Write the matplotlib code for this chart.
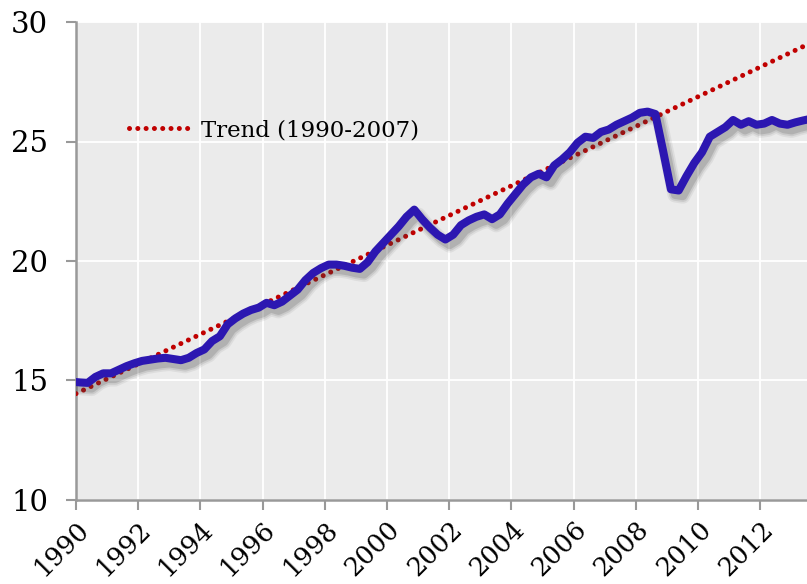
import numpy as np
import matplotlib
matplotlib.use('Agg')
import matplotlib.pyplot as plt
import matplotlib.patheffects as pe

# quarterly series, points at mid-quarter starting 1989Q4
first_quarter = 1989.875
values = [14.95, 14.92, 14.90, 15.15, 15.30, 15.30, 15.45, 15.60, 15.72,
          15.82, 15.87, 15.92, 15.95, 15.90, 15.85, 15.95, 16.15,
          16.30, 16.65, 16.85, 17.35, 17.60, 17.80, 17.95, 18.05,
          18.25, 18.15, 18.30, 18.55, 18.80, 19.20, 19.50, 19.70,
          19.85, 19.85, 19.80, 19.72, 19.67, 19.95, 20.40, 20.75,
          21.10, 21.45, 21.85, 22.15, 21.75, 21.40, 21.10, 20.90,
          21.10, 21.50, 21.70, 21.85, 21.95, 21.75, 21.95, 22.40,
          22.80, 23.20, 23.50, 23.65, 23.50, 24.00, 24.25, 24.55,
          24.95, 25.20, 25.15, 25.40, 25.50, 25.70, 25.85, 26.00,
          26.20, 26.25, 26.15, 24.60, 23.00, 22.95, 23.55, 24.10,
          24.55, 25.20, 25.40, 25.60, 25.90, 25.70, 25.85, 25.70,
          25.75, 25.90, 25.75, 25.70, 25.80, 25.88, 25.95]

# trend (1990-2007) end points
trend_years = [1990.0, 2013.5]
trend_values = [14.45, 29.05]

year_ticks = list(range(1990, 2013, 2))
y_ticks = [10, 15, 20, 25, 30]

t = first_quarter + 0.25 * np.arange(len(values))

plt.rcParams['font.family'] = ['DejaVu Serif']

fig = plt.figure(figsize=(8.07, 5.84), dpi=100)
ax = fig.add_axes([76 / 807, 84 / 584, 731 / 807, 478 / 584])
ax.set_facecolor('#ebebeb')

ax.plot(trend_years, trend_values, color='#c00000', lw=3.6,
        linestyle=(0, (0.01, 1.65)), dash_capstyle='round',
        label='Trend (1990-2007)', zorder=3)

shadow = [pe.SimpleLineShadow(offset=(3, -4), shadow_color='#444444', alpha=0.08, linewidth=11),
          pe.SimpleLineShadow(offset=(3, -4), shadow_color='#444444', alpha=0.12, linewidth=8.5),
          pe.SimpleLineShadow(offset=(3, -4), shadow_color='#444444', alpha=0.18, linewidth=6),
          pe.Normal()]
ax.plot(t, values, color='#2c17b1', lw=5.8, solid_joinstyle='round',
        solid_capstyle='round', path_effects=shadow, zorder=4)

ax.set_xlim(1990, 2013.5)
ax.set_ylim(10, 30)
ax.set_xticks(year_ticks)
ax.set_yticks(y_ticks)
ax.set_xticklabels([str(y) for y in year_ticks], rotation=45, ha='right',
                   va='top', rotation_mode='anchor', fontsize=18.5)
ax.set_yticklabels([str(v) for v in y_ticks], fontsize=21)
ax.tick_params(axis='both', direction='out', length=7, width=1.5, color='#999999')
ax.tick_params(axis='y', pad=13)
ax.tick_params(axis='x', pad=5)

ax.grid(True, color='white', lw=1.3)
ax.set_axisbelow(True)
for side in ['top', 'right']:
    ax.spines[side].set_visible(False)
for side in ['left', 'bottom']:
    ax.spines[side].set_color('#999999')
    ax.spines[side].set_linewidth(1.8)

ax.legend(loc='center left', bbox_to_anchor=(0.044, 0.774), frameon=False,
          fontsize=16.5, handlelength=2.8, handletextpad=0.35)

fig.savefig('out.png', dpi=100)
